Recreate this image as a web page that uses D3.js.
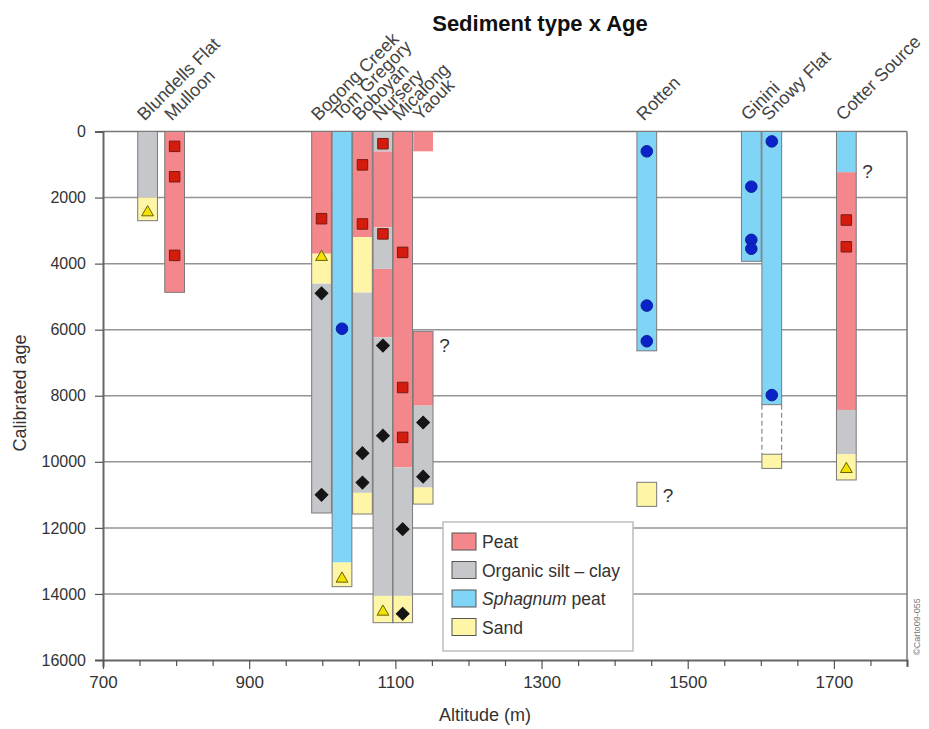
<!DOCTYPE html>
<html>
<head>
<meta charset="utf-8">
<script src="https://cdn.jsdelivr.net/npm/d3@7"></script>
<style>
  body { margin: 0; background: #fff; }
  svg { font-family: 'Liberation Sans', Arial, sans-serif; }
</style>
</head>
<body>
<main></main>
<script>
// sites and altitudes (m)
const siteNames = ['Blundells Flat', 'Mulloon', 'Bogong Creek', 'Tom Gregory', 'Boboyan',
  'Nursery', 'Micalong', 'Yaouk', 'Rotten', 'Ginini', 'Snowy Flat', 'Cotter Source'];
const siteAltitudes = [761, 798, 999, 1027, 1055, 1083, 1110, 1138, 1444, 1587, 1615, 1717];

// layers: [site, top age, bottom age]
const peatLayers = [
  ['Mulloon', 0, 4870], ['Bogong Creek', 0, 3700], ['Boboyan', 0, 3200],
  ['Nursery', 600, 2900], ['Nursery', 4160, 6230], ['Micalong', 0, 10170],
  ['Yaouk', 6050, 8300], ['Cotter Source', 1230, 8430]
];
const siltLayers = [
  ['Blundells Flat', 0, 2000], ['Bogong Creek', 4600, 11550], ['Boboyan', 4870, 10940],
  ['Nursery', 0, 600], ['Nursery', 2900, 4160], ['Nursery', 6230, 14060],
  ['Micalong', 10170, 14060], ['Yaouk', 8300, 10780], ['Cotter Source', 8430, 9770]
];
const sphagnumLayers = [
  ['Tom Gregory', 0, 13050], ['Rotten', 0, 6640], ['Ginini', 0, 3930],
  ['Snowy Flat', 0, 8270], ['Cotter Source', 0, 1230]
];
const sandLayers = [
  ['Blundells Flat', 2000, 2700], ['Bogong Creek', 3700, 4600], ['Tom Gregory', 13050, 13780],
  ['Boboyan', 3200, 4870], ['Boboyan', 10940, 11580], ['Nursery', 14060, 14870],
  ['Micalong', 14060, 14870], ['Yaouk', 10780, 11280], ['Rotten', 10620, 11350],
  ['Snowy Flat', 9770, 10200], ['Cotter Source', 9770, 10550]
];
const unframedLayers = [['Yaouk', 0, 600]];
const gapLayers = [['Snowy Flat', 8270, 9770]];
const coreFrames = [
  ['Blundells Flat', 0, 2700], ['Mulloon', 0, 4870], ['Bogong Creek', 0, 11550],
  ['Tom Gregory', 0, 13780], ['Boboyan', 0, 11580], ['Nursery', 0, 14870],
  ['Micalong', 0, 14870], ['Yaouk', 6050, 11280], ['Rotten', 0, 6640],
  ['Rotten', 10620, 11350], ['Ginini', 0, 3930], ['Snowy Flat', 0, 8270],
  ['Snowy Flat', 9770, 10200], ['Cotter Source', 0, 10550]
];

// dated samples: [site, age]
const peatDates = [
  ['Mulloon', 450], ['Mulloon', 1370], ['Mulloon', 3750], ['Bogong Creek', 2640],
  ['Boboyan', 1010], ['Boboyan', 2800], ['Nursery', 370], ['Nursery', 3100],
  ['Micalong', 3660], ['Micalong', 7750], ['Micalong', 9260],
  ['Cotter Source', 2680], ['Cotter Source', 3490]
];
const siltDates = [
  ['Bogong Creek', 4900], ['Bogong Creek', 11000], ['Boboyan', 9740], ['Boboyan', 10630],
  ['Nursery', 6480], ['Nursery', 9210], ['Micalong', 12040], ['Micalong', 14600],
  ['Yaouk', 8810], ['Yaouk', 10450]
];
const sphagnumDates = [
  ['Tom Gregory', 5970], ['Rotten', 600], ['Rotten', 5270], ['Rotten', 6350],
  ['Ginini', 1670], ['Ginini', 3280], ['Ginini', 3550], ['Snowy Flat', 300], ['Snowy Flat', 7980]
];
const sandDates = [
  ['Blundells Flat', 2450], ['Bogong Creek', 3800], ['Tom Gregory', 13540],
  ['Nursery', 14540], ['Cotter Source', 10220]
];
const queryMarks = [['Yaouk', 6450], ['Rotten', 11000], ['Cotter Source', 1200]];

const legendLabels = ['Peat', 'Organic silt \u2013 clay', 'Sphagnum peat', 'Sand'];
const yTicks = [0, 2000, 4000, 6000, 8000, 10000, 12000, 14000, 16000];
const xLabelTicks = [700, 900, 1100, 1300, 1500, 1700];

const COLORS = { peat: '#f4878b', silt: '#c6c7cb', sphagnum: '#80d4f5', sand: '#fef6a6' };
const FONT = "'Liberation Sans', Arial, sans-serif";

const W = 929;
const H = 729;
const $svg = d3.select('main').append('svg').attr('width', W).attr('height', H);

const scaleX = d3.scaleLinear().domain([700, 1800]).range([103, 907]);
const scaleY = d3.scaleLinear().domain([0, 16000]).range([131.5, 660]);
const altOf = name => siteAltitudes[siteNames.indexOf(name)];
const HALF = 13.5;
const barX = name => scaleX(altOf(name) - HALF);
const barW = scaleX(700 + 2 * HALF) - scaleX(700);

// title
$svg.append('text')
  .attr('x', 540).attr('y', 31)
  .attr('text-anchor', 'middle')
  .attr('font-size', 22).attr('font-weight', 'bold').attr('fill', '#111')
  .text('Sediment type x Age');

// gridlines
$svg.append('g').selectAll('line')
  .data(yTicks.slice(1, -1))
  .enter().append('line')
  .attr('x1', scaleX(700)).attr('x2', scaleX(1800))
  .attr('y1', d => scaleY(d)).attr('y2', d => scaleY(d))
  .attr('stroke', '#949494').attr('stroke-width', 1.5);

// frame top and right
$svg.append('line')
  .attr('x1', scaleX(700)).attr('x2', scaleX(1800))
  .attr('y1', scaleY(0)).attr('y2', scaleY(0))
  .attr('stroke', '#777').attr('stroke-width', 1.5);
$svg.append('line')
  .attr('x1', scaleX(1800)).attr('x2', scaleX(1800))
  .attr('y1', scaleY(0)).attr('y2', scaleY(16000))
  .attr('stroke', '#777').attr('stroke-width', 1.5);

// axes
const axisY = d3.axisLeft(scaleY).tickValues(yTicks).tickSize(8).tickPadding(9)
  .tickFormat(d3.format('d'));
const $axisY = $svg.append('g').attr('transform', `translate(${scaleX(700)},0)`).call(axisY);
const axisX = d3.axisBottom(scaleX).tickValues(d3.range(700, 1801, 50))
  .tickSize(7).tickPadding(9)
  .tickFormat(d => (xLabelTicks.includes(d) ? d : ''));
const $axisX = $svg.append('g').attr('transform', `translate(0,${scaleY(16000)})`).call(axisX);

[$axisY, $axisX].forEach($a => {
  $a.select('.domain').attr('stroke', '#666').attr('stroke-width', 2);
  $a.selectAll('.tick line').attr('stroke', '#555').attr('stroke-width', 1.2);
  $a.selectAll('.tick text').attr('font-size', 17).attr('fill', '#333')
    .attr('font-family', FONT);
});
$axisY.selectAll('.tick text').attr('font-size', 16);
$axisX.selectAll('.tick line').attr('y2', d => (xLabelTicks.includes(d) ? 9 : 6));

$svg.append('text')
  .attr('transform', 'translate(26,393) rotate(-90)')
  .attr('text-anchor', 'middle').attr('font-size', 18).attr('fill', '#333')
  .text('Calibrated age');
$svg.append('text')
  .attr('x', 485).attr('y', 721)
  .attr('text-anchor', 'middle').attr('font-size', 18).attr('fill', '#333')
  .text('Altitude (m)');

// layers
const $bars = $svg.append('g');
function drawLayers(rows, fill) {
  $bars.append('g').selectAll('rect')
    .data(rows)
    .enter().append('rect')
    .attr('x', d => barX(d[0]))
    .attr('y', d => scaleY(d[1]))
    .attr('width', barW)
    .attr('height', d => scaleY(d[2]) - scaleY(d[1]))
    .attr('fill', fill);
}
drawLayers(peatLayers, COLORS.peat);
drawLayers(siltLayers, COLORS.silt);
drawLayers(sphagnumLayers, COLORS.sphagnum);
drawLayers(sandLayers, COLORS.sand);
drawLayers(unframedLayers, COLORS.peat);

$bars.append('g').selectAll('rect')
  .data(coreFrames)
  .enter().append('rect')
  .attr('x', d => barX(d[0]))
  .attr('y', d => scaleY(d[1]))
  .attr('width', barW)
  .attr('height', d => scaleY(d[2]) - scaleY(d[1]))
  .attr('fill', 'none').attr('stroke', '#7a7a7a').attr('stroke-width', 1);

$bars.append('g').selectAll('path')
  .data(gapLayers)
  .enter().append('path')
  .attr('d', d => {
    const x0 = barX(d[0]);
    const x1 = x0 + barW;
    return `M${x0},${scaleY(d[1])}V${scaleY(d[2])}M${x1},${scaleY(d[1])}V${scaleY(d[2])}`;
  })
  .attr('fill', 'none').attr('stroke', '#888').attr('stroke-width', 1.2)
  .attr('stroke-dasharray', '5,3');

// dates
const $marks = $svg.append('g');
function drawMarks(rows, symbolType, size, fill, stroke, angle) {
  $marks.append('g').selectAll('path')
    .data(rows)
    .enter().append('path')
    .attr('transform', d => `translate(${scaleX(altOf(d[0]))},${scaleY(d[1])}) rotate(${angle})`)
    .attr('d', d3.symbol().type(symbolType).size(size))
    .attr('fill', fill).attr('stroke', stroke).attr('stroke-width', 1);
}
drawMarks(peatDates, d3.symbolSquare, 110, '#d41c0e', '#7a1a12', 0);
drawMarks(siltDates, d3.symbolSquare, 82, '#151515', '#151515', 45);
drawMarks(sphagnumDates, d3.symbolCircle, 105, '#0b22c8', '#0b1e9a', 0);
drawMarks(sandDates, d3.symbolTriangle, 60, '#f2e200', '#6b6000', 0);

$svg.append('g').selectAll('text')
  .data(queryMarks)
  .enter().append('text')
  .attr('x', d => scaleX(altOf(d[0])) + 16)
  .attr('y', d => scaleY(d[1]) + 7)
  .attr('font-size', 19).attr('fill', '#333')
  .text('?');

// site labels
$svg.append('g').selectAll('text')
  .data(siteNames)
  .enter().append('text')
  .attr('transform', d => `translate(${scaleX(altOf(d)) - 3},${scaleY(0) - 10}) rotate(-45)`)
  .attr('font-size', 18).attr('fill', '#444')
  .text(d => d);

// legend
const $legend = $svg.append('g').attr('transform', 'translate(443,522)');
$legend.append('rect')
  .attr('width', 190).attr('height', 129)
  .attr('fill', '#fff').attr('stroke', '#bdbdbd').attr('stroke-width', 1.5);
const legendColors = [COLORS.peat, COLORS.silt, COLORS.sphagnum, COLORS.sand];
const $item = $legend.selectAll('.item')
  .data(legendLabels)
  .enter().append('g')
  .attr('class', 'item')
  .attr('transform', (d, i) => `translate(9,${11 + i * 28.5})`);
$item.append('rect')
  .attr('width', 24).attr('height', 17)
  .attr('fill', (d, i) => legendColors[i]).attr('stroke', '#555').attr('stroke-width', 1);
$item.append('text')
  .attr('x', 30).attr('y', 15)
  .attr('font-size', 17.5).attr('fill', '#333')
  .each(function (d) {
    const $t = d3.select(this);
    if (d.startsWith('Sphagnum')) {
      $t.append('tspan').attr('font-style', 'italic').text('Sphagnum');
      $t.append('tspan').text(' peat');
    } else {
      $t.text(d);
    }
  });

// credit
$svg.append('text')
  .attr('transform', 'translate(920,655) rotate(-90)')
  .attr('font-size', 9).attr('fill', '#777')
  .text('\u00a9Carto09-055');
</script>
</body>
</html>
